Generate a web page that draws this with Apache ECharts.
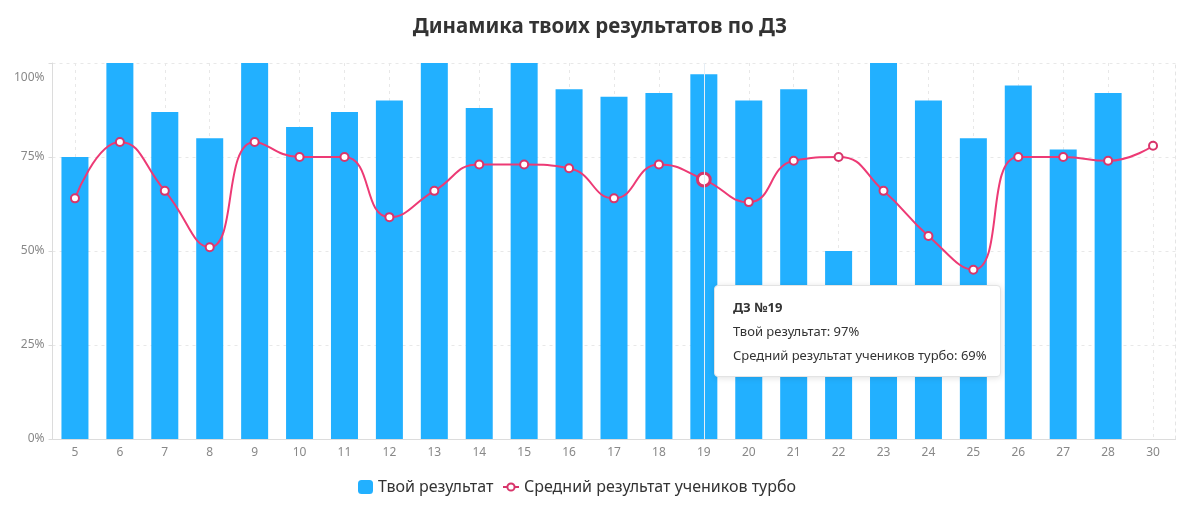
<!DOCTYPE html>
<html>
<head>
<meta charset="utf-8">
<script src="https://cdn.jsdelivr.net/npm/echarts@6/dist/echarts.min.js"></script>
<style>
html,body{margin:0;padding:0;background:#fff;}
#chart{width:1200px;height:512px;}
</style>
</head>
<body>
<div id="chart"></div>
<script>
const titleText = 'Динамика твоих результатов по ДЗ';
const seriesNames = ['Твой результат', 'Средний результат учеников турбо'];
const categories = ['5','6','7','8','9','10','11','12','13','14','15','16','17','18','19','20','21','22','23','24','25','26','27','28','30'];
const myResults = [75,100,87,80,100,83,87,90,100,88,100,93,91,92,97,90,93,50,100,90,80,94,77,92,null];
const avgResults = [64,79,66,51,79,75,75,59,66,73,73,72,64,73,69,63,74,75,66,54,45,75,75,74,78];
const yTicks = [0,25,50,75,100];

const chart = echarts.init(document.getElementById('chart'));
const FONT = 'Noto Sans';
const legendText = {fontFamily: FONT, fontSize: 16, color: '#333', lineHeight: 20};
const option = {
  animation: false,
  textStyle: {fontFamily: FONT},
  title: {
    text: titleText, left: 'center', top: 12,
    textStyle: {fontFamily: FONT, fontSize: 20.5, fontWeight: 'bold', color: '#333'}
  },
  legend: [{
    top: 472, left: 353, itemWidth: 15, itemHeight: 14,
    textStyle: legendText, data: [seriesNames[0]]
  }, {
    top: 472, left: 497, itemWidth: 16, itemHeight: 9,
    textStyle: legendText, data: [seriesNames[1]]
  }],
  grid: {left: 52.5, right: 24.5, top: 63, bottom: 73, containLabel: false},
  tooltip: {
    trigger: 'axis',
    triggerOn: 'none',
    alwaysShowContent: true,
    position: [714, 285],
    backgroundColor: '#fff',
    borderColor: '#e3e3e3',
    borderWidth: 1,
    padding: [9, 13, 9, 18],
    extraCssText: 'box-shadow:0 1px 6px rgba(0,0,0,0.12);border-radius:4px;line-height:24px;',
    textStyle: {fontFamily: FONT, fontSize: 13, color: '#333'},
    axisPointer: {type: 'line', lineStyle: {color: '#e6eef5', width: 1, type: 'solid'}},
    formatter: function (params) {
      const idx = params[0].dataIndex;
      return '<div style="font-weight:bold">ДЗ №' + categories[idx] + '</div>' +
        '<div>' + seriesNames[0] + ': ' + myResults[idx] + '%</div>' +
        '<div>' + seriesNames[1] + ': ' + avgResults[idx] + '%</div>';
    }
  },
  xAxis: {
    type: 'category',
    data: categories,
    boundaryGap: true,
    axisLine: {lineStyle: {color: '#dcdcdc'}},
    axisTick: {alignWithLabel: true, length: 4, lineStyle: {color: '#dcdcdc'}},
    axisLabel: {color: '#888', fontSize: 12, margin: 8, fontFamily: FONT},
    splitLine: {show: true, alignWithLabel: true, lineStyle: {color: '#e8e8e8', type: [3, 4]}}
  },
  yAxis: [{
    type: 'value', min: 0, max: 100, interval: 25,
    axisLine: {show: true, lineStyle: {color: '#dcdcdc'}},
    axisTick: {show: true, length: 4, lineStyle: {color: '#dcdcdc'}},
    axisLabel: {
      color: '#888', fontSize: 12, margin: 8, fontFamily: FONT,
      formatter: function (v) { return v === 100 ? '{t|100%}' : v + '%'; },
      rich: {t: {padding: [29, 0, 0, 0], color: '#888', fontSize: 12, fontFamily: FONT}}
    },
    splitLine: {show: true, lineStyle: {color: '#e8e8e8', type: [3, 4]}}
  }, {
    type: 'value', min: 0, max: 100, interval: 25, position: 'right',
    axisLine: {show: true, lineStyle: {color: '#e4e4e4', type: [3, 4]}},
    axisTick: {show: false}, axisLabel: {show: false}, splitLine: {show: false}
  }],
  series: [{
    name: seriesNames[0],
    type: 'bar',
    data: myResults,
    barWidth: 27,
    itemStyle: {color: '#22b0ff'},
    emphasis: {disabled: true}
  }, {
    name: seriesNames[1],
    type: 'line',
    data: avgResults,
    smooth: 0.5,
    symbol: 'circle',
    symbolSize: 8,
    showAllSymbol: true,
    lineStyle: {color: '#d8356b', width: 2},
    itemStyle: {color: '#fff', borderColor: '#d8356b', borderWidth: 2},
    emphasis: {scale: 1.6, itemStyle: {color: '#fff', borderColor: '#d8356b', borderWidth: 3}},
    z: 5
  }]
};
chart.setOption(option);
chart.dispatchAction({type: 'showTip', seriesIndex: 1, dataIndex: 14});
</script>
</body>
</html>
